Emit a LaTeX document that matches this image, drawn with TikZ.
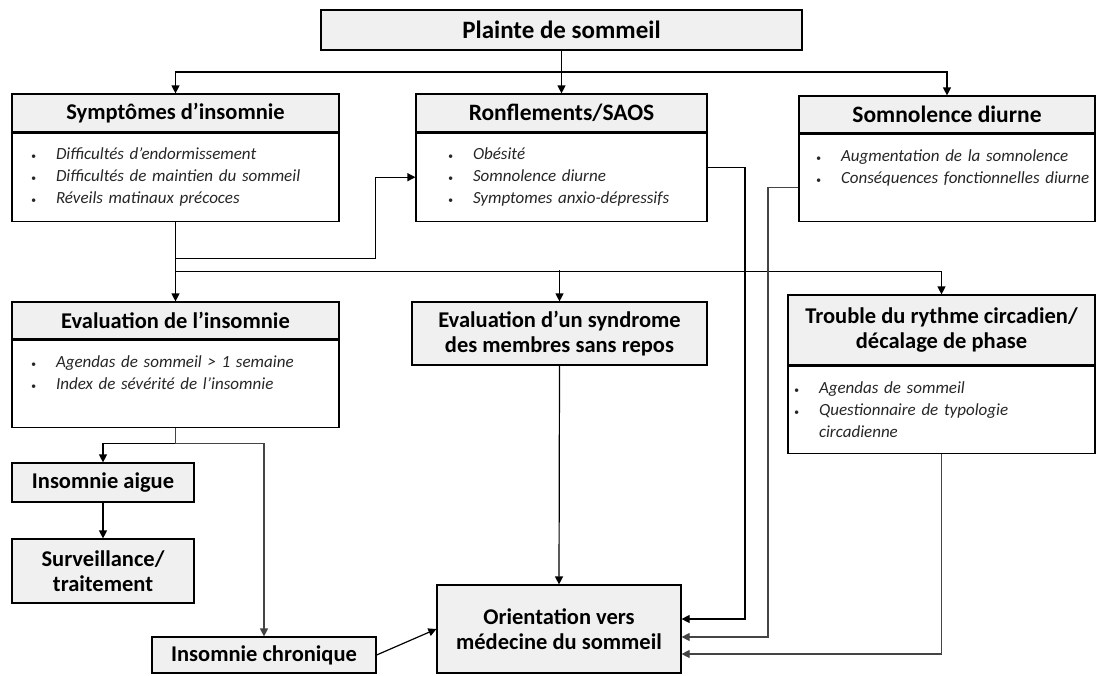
\documentclass[tikz,border=0pt]{standalone}
\usepackage{fontspec}
\setmainfont{Carlito}
\usetikzlibrary{arrows.meta,calc}

\definecolor{fondgris}{HTML}{F0F0F0}
\definecolor{traitgris}{HTML}{444444}
\definecolor{textegris}{HTML}{262626}

\newcommand{\itm}[1]{\mbox{\makebox[25pt][l]{\fontsize{10}{22}\selectfont\textbullet}#1}}

\tikzset{
  titre/.style={draw, fill=fondgris, line width=1.2pt, align=center, inner sep=0pt,
    font=\fontsize{22.5}{25}\selectfont\bfseries},
  corps/.style={draw, fill=white, line width=1.2pt, align=left, inner ysep=0pt, anchor=north,
    text=textegris, font=\fontsize{17}{22}\selectfont\itshape},
  lien/.style={line width=1.2pt},
  fleche/.style={lien, -{Triangle[length=8pt,width=8pt]}},
}

\begin{document}
\begin{tikzpicture}[x=1pt, y=-1pt]
\useasboundingbox (0,0) rectangle (1097,675);

\node[titre, minimum width=481, minimum height=40, font=\fontsize{25}{28}\selectfont\bfseries] (plainte) at (561.5,30) {Plainte de sommeil};

% -------- premiere ligne -----------
\node[titre, minimum width=327, minimum height=38] (sympt) at (175.5,113) {Symptômes d’insomnie};
\node[corps, minimum height=88, text width=289, inner xsep=19] (symptB) at (sympt.south)
  {\itm{Difficultés d’endormissement}\\ \itm{Difficultés de maintien du sommeil}\\ \itm{Réveils matinaux précoces}};

\node[titre, minimum width=291, minimum height=38, font=\fontsize{23.5}{25}\selectfont\bfseries] (ronfl) at (561.5,113) {Ronflements/SAOS};
\node[corps, minimum height=88, text width=227, inner xsep=32] (ronflB) at (ronfl.south)
  {\itm{Obésité}\\ \itm{Somnolence diurne}\\ \itm{Symptomes anxio-dépressifs}};

\node[titre, minimum width=296, minimum height=37, font=\fontsize{23.5}{25}\selectfont\bfseries] (somno) at (947,114.5) {Somnolence diurne};
\node[corps, minimum height=87, text width=262, inner xsep=17] (somnoB) at (somno.south)
  {\itm{Augmentation de la somnolence}\\ \itm{Conséquences fonctionnelles diurne}\\ \mbox{}};

% -------- deuxieme ligne -----------
\node[titre, minimum width=327, minimum height=37] (evalI) at (175.5,320.5) {Evaluation de l’insomnie};
\node[corps, minimum height=87, text width=289, inner xsep=19] (evalIB) at (evalI.south)
  {\itm{Agendas de sommeil > 1 semaine}\\ \itm{Index de sévérité de l’insomnie}\\ \mbox{}};

\node[titre, minimum width=295, minimum height=63] (evalS) at (559.5,333.5)
  {Evaluation d’un syndrome\\ des membres sans repos};

\node[titre, minimum width=307, minimum height=70] (trouble) at (941.5,330)
  {Trouble du rythme circadien/\\ décalage de phase};
\node[corps, minimum height=87, text width=295, inner xsep=6] (troubleB) at (trouble.south)
  {\itm{Agendas de sommeil}\\ \itm{Questionnaire de typologie}\\ \hspace*{25pt}circadienne};

% -------- bas -----------
\node[titre, minimum width=182, minimum height=39] (aigue) at (103,482.5) {Insomnie aigue};
\node[titre, minimum width=182, minimum height=64] (surv) at (103,571) {Surveillance/\\ traitement};
\node[titre, minimum width=224, minimum height=36] (chron) at (264,655) {Insomnie chronique};
\node[titre, minimum width=244, minimum height=88] (orient) at (559,629)
  {Orientation vers\\ médecine du sommeil};

% -------- connecteurs -----------
\coordinate (haut) at (561.5,72);
\draw[fleche] (plainte.south) -- (ronfl.north);
\draw[fleche] (haut) -| (sympt.north);
\draw[fleche] (haut) -| (somno.north);

\draw[fleche] (symptB.south) -- (evalI.north);
\draw[fleche] ($(symptB.south)+(0,37)$) -| ([xshift=-40pt]ronflB.west) -- (ronflB.west);
\draw[fleche] ($(symptB.south)+(0,50)$) -| (trouble.north);
\draw[fleche] (evalS.north |- 0,270) -- (evalS.north);

\draw[fleche] ($(ronflB.east)+(0,-10)$) -| (745,619) -- ($(orient.east)+(0,-10)$);
\draw[fleche, traitgris] ($(somnoB.west)+(0,10)$) -| (768,637) -- ($(orient.east)+(0,8)$);
\draw[fleche, traitgris] (troubleB.south) |- ($(orient.east)+(0,25)$);
\draw[fleche] (evalS.south) -- (orient.north);

\draw[fleche] (evalIB.south) -- ++(0,16) -| (aigue.north);
\draw[fleche, traitgris] (evalIB.south) -- ++(0,16) -| (chron.north);
\draw[fleche] (aigue.south) -- (surv.north);
\draw[fleche] (chron.east) -- (orient.west);
\end{tikzpicture}
\end{document}
